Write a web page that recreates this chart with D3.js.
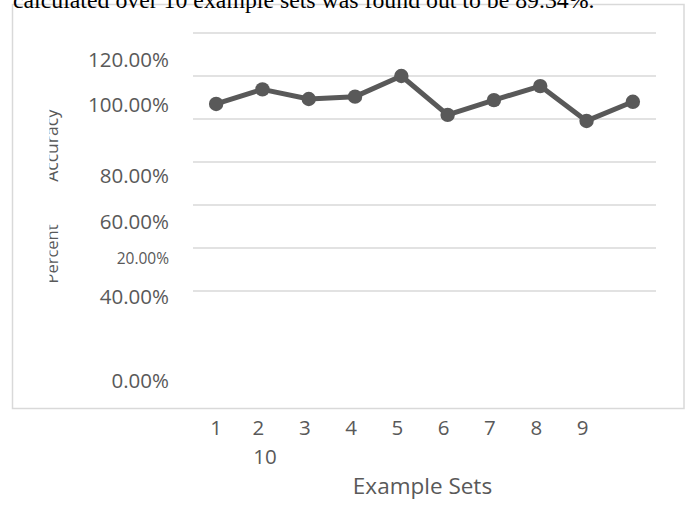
<!DOCTYPE html>
<html>
<head>
<meta charset="utf-8">
<script src="https://cdn.jsdelivr.net/npm/d3@7"></script>
<style>
  html, body { margin: 0; padding: 0; background: #fff; }
  svg { display: block; }
</style>
</head>
<body>
<svg id="chart" width="687" height="508"></svg>
<script>
// ---------- data ----------
const categories = ["1", "2", "3", "4", "5", "6", "7", "8", "9", "10"];
const accuracy = [87.0, 93.8, 89.3, 90.4, 100.0, 81.9, 88.8, 95.3, 79.1, 88.0];
const gridValues = [0, 20, 40, 60, 80, 100, 120];
const yTickLabels = ["120.00%", "100.00%", "80.00%", "60.00%", "20.00%", "40.00%", "0.00%"];
const xTitle = "Example Sets";
const yTitleParts = ["Accuracy", "Percent"];
const caption = "calculated over 10 example sets was found out to be 89.34%.";

// ---------- layout ----------
const W = 687, H = 508;
const svg = d3.select("#chart");
const gray = "#595959";
const gridColor = "#d9d9d9";
const labelFont = "'Open Sans', 'Noto Sans', sans-serif";

const x = d3.scaleBand().domain(categories).range([193, 656]);
const y = d3.scaleLinear().domain([0, 120]).range([291, 33]);
const cx = d => x(d) + x.bandwidth() / 2;

// chart frame
svg.append("rect")
  .attr("x", 12.5).attr("y", 4.5).attr("width", 671.5).attr("height", 404)
  .attr("fill", "#fff").attr("stroke", gridColor).attr("stroke-width", 1.5);

// gridlines
svg.append("g").selectAll("line").data(gridValues).join("line")
  .attr("x1", x.range()[0]).attr("x2", x.range()[1])
  .attr("y1", d => y(d)).attr("y2", d => y(d))
  .attr("stroke", gridColor).attr("stroke-width", 1.6);

// y tick labels (displaced, as in the reference)
const yLabelCenters = [60, 105, 176, 222, 259, 297, 381];
const yLabelSizes = [20.5, 20.5, 20.5, 20.5, 15.5, 20.5, 20.5];
svg.append("g").selectAll("text").data(yTickLabels).join("text")
  .attr("x", 169)
  .attr("y", (d, i) => yLabelCenters[i])
  .attr("dy", "0.35em")
  .attr("text-anchor", "end")
  .attr("font-family", labelFont)
  .attr("font-size", (d, i) => yLabelSizes[i])
  .attr("fill", gray)
  .text(d => d);

// rotated (clipped) axis title pieces
const defs = svg.append("defs");
defs.append("clipPath").attr("id", "titleClip")
  .append("rect").attr("x", 49.5).attr("y", 0).attr("width", 40).attr("height", H);
const titleCenters = [145.5, 254];
const tg = svg.append("g").attr("clip-path", "url(#titleClip)");
tg.selectAll("text").data(yTitleParts).join("text")
  .attr("transform", (d, i) => `translate(57.5,${titleCenters[i]}) rotate(-90)`)
  .attr("text-anchor", "middle")
  .attr("font-family", labelFont)
  .attr("font-size", (d, i) => i === 0 ? 17.5 : 16.5)
  .attr("fill", gray)
  .text(d => d);

// line + markers
const line = d3.line().x((d, i) => cx(categories[i])).y(d => y(d));
svg.append("path").datum(accuracy)
  .attr("d", line)
  .attr("fill", "none").attr("stroke", gray)
  .attr("stroke-width", 5).attr("stroke-linejoin", "round");
svg.append("g").selectAll("circle").data(accuracy).join("circle")
  .attr("cx", (d, i) => cx(categories[i]))
  .attr("cy", d => y(d))
  .attr("r", 7.2)
  .attr("fill", gray);

// x tick labels (the last one wrapped to a second line under "2")
const xl = svg.append("g").attr("font-family", labelFont).attr("font-size", 20.5).attr("fill", gray)
  .attr("text-anchor", "middle");
xl.selectAll("text").data(categories).join("text")
  .attr("x", (d, i) => i < 9 ? cx(d) - (i === 0 ? 0 : 4) : cx(categories[1]) + 2.5)
  .attr("y", (d, i) => i < 9 ? 428 : 457)
  .attr("dy", "0.35em")
  .text(d => d);

// x axis title
svg.append("text")
  .attr("x", 422.5).attr("y", 494)
  .attr("text-anchor", "middle")
  .attr("font-family", labelFont)
  .attr("font-size", 22.5)
  .attr("fill", gray)
  .text(xTitle);

// caption from the surrounding page (cut at the top edge, as in the reference)
const cap = svg.append("text")
  .attr("x", 13).attr("y", 7.5)
  .attr("font-family", "'Liberation Serif', 'Times New Roman', serif")
  .attr("font-size", 22)
  .attr("fill", "#000")
  .text(caption);
const w = cap.node().getComputedTextLength();
cap.attr("font-size", 22 * 582 / w);
</script>
</body>
</html>
